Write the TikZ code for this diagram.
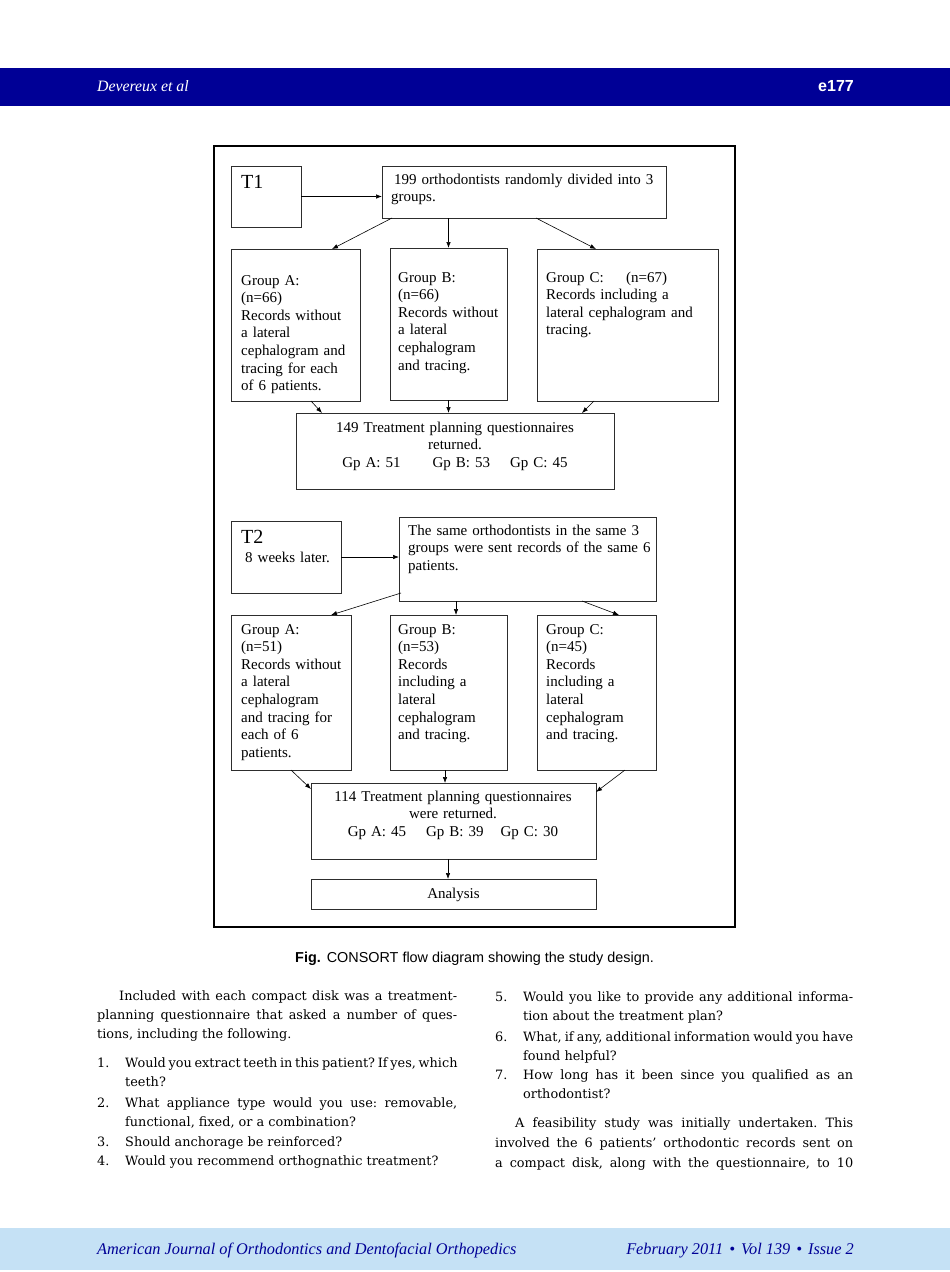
\documentclass[tikz,border=0pt]{standalone}
\usepackage{fontspec}
\setmainfont{Liberation Serif}
\newfontfamily\bodyfont{DejaVu Serif}
\newfontfamily\capfont{Liberation Sans}
\usetikzlibrary{arrows.meta}
\definecolor{hdrblue}{RGB}{0,0,150}
\definecolor{ftrblue}{RGB}{197,225,245}
\definecolor{boxgray}{RGB}{45,45,45}
\newcommand\myjust[2]{\makebox[#1][s]{#2}}
\frenchspacing
\begin{document}
\begin{tikzpicture}[x=1pt,y=-1pt,
 box/.style={draw=boxgray, line width=0.9pt, inner sep=0pt, outer sep=0pt, anchor=north west},
 dtxt/.style={font=\fontsize{15}{17.6}\selectfont, inner sep=0pt, anchor=base west, align=left, text width=330pt},
 ctxt/.style={font=\fontsize{15}{17.6}\selectfont, inner sep=0pt, anchor=base, align=center, text width=330pt},
 bigt/.style={font=\fontsize{20}{20}\selectfont, inner sep=0pt, anchor=base west},
 arr/.style={-{Latex[length=6pt,width=4.5pt]}, line width=0.6pt, draw=black},
 body/.style={font=\bodyfont\frenchspacing\fontsize{12.85}{15}\selectfont, inner sep=0pt, anchor=base west},
 hdr/.style={inner sep=0pt, anchor=base west},
]
\useasboundingbox (0,0) rectangle (950,1272);
\fill[white] (0,0) rectangle (950,1272);

% header and footer bars
\fill[hdrblue] (0,68) rectangle (950,106);
\node[hdr, text=white, font=\itshape\fontsize{15.8}{16}\selectfont] (hleft) at (97,91) {Devereux et al};
\node[hdr, anchor=base east, text=white, font=\capfont\bfseries\fontsize{16}{16}\selectfont] (hright) at (854,91) {e177};
\fill[ftrblue] (0,1228) rectangle (950,1270);
\node[hdr, text=hdrblue, font=\itshape\fontsize{16.3}{17}\selectfont] (fleft) at (97,1254) {American Journal of Orthodontics and Dentofacial Orthopedics};
\node[hdr, anchor=base east, text=hdrblue, font=\itshape\fontsize{16.3}{17}\selectfont] (fright) at (854,1254) {February 2011\hspace{6pt}\textbullet\hspace{6pt}Vol 139\hspace{6pt}\textbullet\hspace{6pt}Issue 2};

% outer frame
\node[box, draw=black, line width=1.5pt, minimum width=521pt, minimum height=781pt] (frame) at (214,146) {};

% boxes
\node[box, minimum width=70pt, minimum height=61pt] (t1) at (231,166) {};
\node[box, minimum width=284pt, minimum height=52pt] (top) at (382,166) {};
\node[box, minimum width=129pt, minimum height=152pt] (ga) at (231,249) {};
\node[box, minimum width=117pt, minimum height=152pt] (gb) at (390,248) {};
\node[box, minimum width=181pt, minimum height=152pt] (gc) at (537,249) {};
\node[box, minimum width=318pt, minimum height=76pt] (r1) at (296,413) {};
\node[box, minimum width=110pt, minimum height=72pt] (t2) at (231,521) {};
\node[box, minimum width=257pt, minimum height=84pt] (same) at (399,517) {};
\node[box, minimum width=120pt, minimum height=155pt] (ga2) at (231,615) {};
\node[box, minimum width=117pt, minimum height=155pt] (gb2) at (390,615) {};
\node[box, minimum width=119pt, minimum height=155pt] (gc2) at (537,615) {};
\node[box, minimum width=285pt, minimum height=76pt] (r2) at (311,783) {};
\node[box, minimum width=285pt, minimum height=30pt] (an) at (311,879) {};

% texts
\node[bigt] (t1l) at (241,188) {T1};
\node[dtxt] (topl) at (391,184) {\hspace*{3pt}199 orthodontists randomly divided into 3\\groups.};
\node[dtxt] (gal) at (241,285) {Group A:\\(n=66)\\Records without\\a lateral\\cephalogram and\\tracing for each\\of 6 patients.};
\node[dtxt] (gbl) at (398,282) {Group B:\\(n=66)\\Records without\\a lateral\\cephalogram\\and tracing.};
\node[dtxt] (gcl) at (546,282) {\makebox[80pt][l]{Group C:}(n=67)\\Records including a\\lateral cephalogram and\\tracing.};
\node[ctxt] (r1l) at (455,432) {149 Treatment planning questionnaires\\returned.\\Gp A: 51\hspace{32pt}Gp B: 53\hspace{20pt}Gp C: 45};
\node[bigt] (t2l) at (241,543) {T2};
\node[dtxt] (t2s) at (245,562) {8 weeks later.};
\node[dtxt] (samel) at (408,535) {The same orthodontists in the same 3\\groups were sent records of the same 6\\patients.};
\node[dtxt] (ga2l) at (241,634) {Group A:\\(n=51)\\Records without\\a lateral\\cephalogram\\and tracing for\\each of 6\\patients.};
\node[dtxt] (gb2l) at (398,634) {Group B:\\(n=53)\\Records\\including a\\lateral\\cephalogram\\and tracing.};
\node[dtxt] (gc2l) at (546,634) {Group C:\\(n=45)\\Records\\including a\\lateral\\cephalogram\\and tracing.};
\node[ctxt] (r2l) at (453,801) {114 Treatment planning questionnaires\\were returned.\\Gp A: 45\hspace{20pt}Gp B: 39\hspace{17pt}Gp C: 30};
\node[ctxt] (anl) at (453.5,898) {Analysis};

% connectors
\draw[arr] (t1.east) -- (t1.east -| top.west);
\draw[arr] ([xshift=10pt]top.south west) -- ([xshift=101pt]ga.north west);
\draw[arr] (top.south -| gb.north) -- (gb.north);
\draw[arr] ([xshift=154pt]top.south west) -- ([xshift=59pt]gc.north west);
\draw[arr] ([xshift=80pt]ga.south west) -- ([xshift=26pt]r1.north west);
\draw[arr] (gb.south) -- (r1.north -| gb.south);
\draw[arr] ([xshift=57pt]gc.south west) -- ([xshift=286pt]r1.north west);
\draw[arr] (t2.east) -- (t2.east -| same.west);
\draw[arr] ([xshift=2pt,yshift=8pt]same.south west) -- ([xshift=100pt]ga2.north west);
\coordinate (gb2in) at ([xshift=66pt]gb2.north west);
\draw[arr] (same.south -| gb2in) -- (gb2in);
\draw[arr] ([xshift=183pt]same.south west) -- ([xshift=82pt]gc2.north west);
\draw[arr] ([xshift=60pt]ga2.south west) -- ([yshift=-6pt]r2.north west);
\coordinate (gb2out) at ([xshift=55pt]gb2.south west);
\draw[arr] (gb2out) -- (r2.north -| gb2out);
\draw[arr] ([xshift=88pt]gc2.south west) -- ([yshift=-9pt]r2.north east);
\coordinate (r2out) at ([xshift=137pt]r2.south west);
\draw[arr] (r2out) -- (an.north -| r2out);

% caption
\node[hdr, font=\capfont\fontsize{14.4}{16}\selectfont] (cap) at (295,962) {\textbf{Fig.}\hspace{6pt}CONSORT flow diagram showing the study design.};

% body text, left column
\node[body] (l1) at (119,1000) {\myjust{338pt}{Included with each compact disk was a treatment-}};
\node[body] (l2) at (97,1019) {\myjust{360pt}{planning questionnaire that asked a number of ques-}};
\node[body] (l3) at (97,1038) {tions, including the following.};
\node[body] (n1) at (97,1067) {1.};
\node[body] (i1a) at (125,1067) {\myjust{332pt}{Would you extract teeth in this patient? If yes, which}};
\node[body] (i1b) at (125,1086) {teeth?};
\node[body] (n2) at (97,1107) {2.};
\node[body] (i2a) at (125,1107) {\myjust{332pt}{What appliance type would you use: removable,}};
\node[body] (i2b) at (125,1126) {functional, fixed, or a combination?};
\node[body] (n3) at (97,1146) {3.};
\node[body] (i3) at (125,1146) {Should anchorage be reinforced?};
\node[body] (n4) at (97,1165) {4.};
\node[body] (i4) at (125,1165) {Would you recommend orthognathic treatment?};

% body text, right column
\node[body] (n5) at (495,1001) {5.};
\node[body] (i5a) at (523,1001) {\myjust{330pt}{Would you like to provide any additional informa-}};
\node[body] (i5b) at (523,1020) {tion about the treatment plan?};
\node[body] (n6) at (495,1041) {6.};
\node[body] (i6a) at (523,1041) {\myjust{330pt}{What, if any, additional information would you have}};
\node[body] (i6b) at (523,1060) {found helpful?};
\node[body] (n7) at (495,1079) {7.};
\node[body] (i7a) at (523,1079) {\myjust{330pt}{How long has it been since you qualified as an}};
\node[body] (i7b) at (523,1098) {orthodontist?};
\node[body] (p1) at (515,1127) {\myjust{338pt}{A feasibility study was initially undertaken. This}};
\node[body] (p2) at (495,1147) {\myjust{358pt}{involved the 6 patients’ orthodontic records sent on}};
\node[body] (p3) at (495,1167) {\myjust{358pt}{a compact disk, along with the questionnaire, to 10}};
\end{tikzpicture}
\end{document}
